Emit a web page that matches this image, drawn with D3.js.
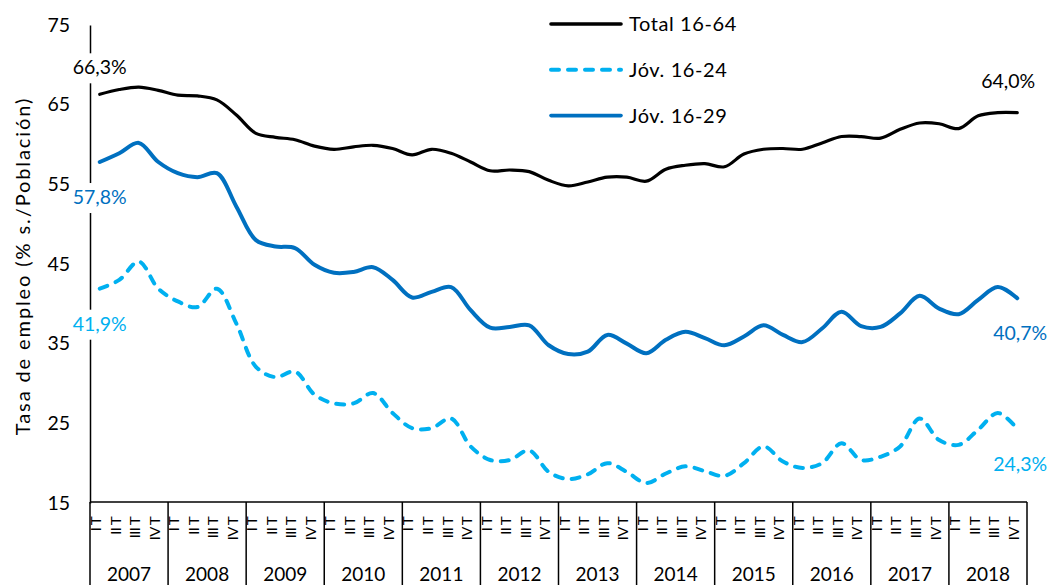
<!DOCTYPE html>
<html>
<head>
<meta charset="utf-8">
<script src="https://cdn.jsdelivr.net/npm/d3@7"></script>
<style>
  body { margin: 0; background: #fff; }
  svg { font-family: Lato, "Open Sans", sans-serif; }
</style>
</head>
<body>
<svg id="chart"></svg>
<script>
// values (quarterly, 2007 I T .. 2018 IV T)
var years = ["2007", "2008", "2009", "2010", "2011", "2012", "2013", "2014", "2015", "2016", "2017", "2018"];
var quarters = ["I T", "II T", "III T", "IV T"];
var yTicks = [15, 25, 35, 45, 55, 65, 75];

var total1664 = [
  66.3, 66.9, 67.2, 66.8, 66.2, 66.1, 65.6, 63.7, 61.4, 60.9, 60.6, 59.8,
  59.4, 59.7, 59.9, 59.5, 58.7, 59.4, 58.9, 57.8, 56.7, 56.8, 56.6, 55.5,
  54.8, 55.3, 55.9, 55.9, 55.4, 56.9, 57.4, 57.6, 57.2, 58.8, 59.4, 59.5,
  59.4, 60.2, 61.0, 61.0, 60.8, 61.9, 62.7, 62.6, 62.0, 63.6, 64.0, 64.0
];
var jov1624 = [
  41.9, 43.0, 45.3, 41.9, 40.3, 39.6, 41.9, 37.5, 32.1, 30.8, 31.5, 28.6,
  27.5, 27.5, 28.8, 26.3, 24.4, 24.4, 25.6, 22.1, 20.4, 20.4, 21.6, 18.9,
  18.0, 18.6, 20.0, 18.9, 17.5, 18.7, 19.6, 19.0, 18.4, 20.0, 22.1, 20.2,
  19.4, 20.0, 22.5, 20.4, 20.8, 22.1, 25.6, 22.9, 22.3, 24.2, 26.3, 24.3
];
var jov1629 = [
  57.8, 58.9, 60.2, 57.8, 56.4, 55.9, 56.4, 52.2, 48.0, 47.2, 47.0, 44.9,
  43.9, 44.0, 44.6, 43.0, 40.8, 41.5, 42.1, 39.2, 37.0, 37.1, 37.3, 34.8,
  33.7, 34.0, 36.1, 35.0, 33.8, 35.5, 36.5, 35.7, 34.8, 35.9, 37.3, 36.1,
  35.2, 36.9, 39.0, 37.2, 37.1, 38.8, 41.0, 39.4, 38.7, 40.5, 42.1, 40.7
];

var width = 1050, height = 585;
var margin = { left: 90, right: 1027, top: 25, bottom: 503 };

var svg = d3.select("#chart").attr("width", width).attr("height", height);

// one slot per quarter
var periods = [];
years.forEach(function (yr) {
  quarters.forEach(function (q) { periods.push(yr + " " + q); });
});

var x = d3.scaleBand().domain(periods).range([margin.left, margin.right]);
var xYear = d3.scaleBand().domain(years).range([margin.left, margin.right]);
var y = d3.scaleLinear().domain([15, 75]).range([margin.bottom, margin.top]);

function cx(i) { return x(periods[i]) + x.bandwidth() / 2; }

var series = [
  { name: "Total 16-64", values: total1664, color: "#000000", width: 3.2, dash: null },
  { name: "Jóv. 16-24", values: jov1624, color: "#00B0F0", width: 4, dash: "8,9" },
  { name: "Jóv. 16-29", values: jov1629, color: "#0070C0", width: 4, dash: null }
];

// y axis
var yAxis = svg.append("g")
  .attr("transform", `translate(${margin.left},0)`)
  .call(d3.axisLeft(y).tickValues(yTicks).tickSize(0).tickSizeOuter(0).tickPadding(20));
yAxis.select(".domain").attr("stroke", "#000").attr("stroke-width", 1.5);
yAxis.selectAll("text")
  .attr("font-size", 19.5)
  .attr("fill", "#000")
  .attr("font-family", "Lato, sans-serif");

svg.append("text")
  .attr("transform", "translate(23,266) rotate(-90)")
  .attr("text-anchor", "middle")
  .attr("dy", "0.35em")
  .attr("font-size", 20)
  .attr("letter-spacing", 1.9)
  .text("Tasa de empleo (% s./Población)");

// x axis: baseline, year boxes, quarter labels
svg.append("line")
  .attr("x1", margin.left).attr("x2", margin.right)
  .attr("y1", margin.bottom - 1).attr("y2", margin.bottom - 1)
  .attr("stroke", "#000").attr("stroke-width", 1.5);

var yearG = svg.append("g");
yearG.selectAll("line")
  .data(years.concat(["end"]))
  .enter()
  .append("line")
  .attr("x1", (d) => (d == "end" ? margin.right : xYear(d)))
  .attr("x2", (d) => (d == "end" ? margin.right : xYear(d)))
  .attr("y1", margin.bottom - 1)
  .attr("y2", height)
  .attr("stroke", "#000")
  .attr("stroke-width", 1.5);

yearG.selectAll("text")
  .data(years)
  .enter()
  .append("text")
  .attr("x", (d) => xYear(d) + xYear.bandwidth() / 2)
  .attr("y", 574)
  .attr("dy", "0.35em")
  .attr("text-anchor", "middle")
  .attr("font-size", 19)
  .text((d) => d);

svg.append("g")
  .selectAll("text")
  .data(periods)
  .enter()
  .append("text")
  .attr("transform", (d) => `translate(${x(d) + x.bandwidth() / 2 - 3},517) rotate(-90) scale(1.2,1)`)
  .attr("text-anchor", "end")
  .attr("dy", "0.35em")
  .attr("font-size", 12.5)
  .attr("letter-spacing", -0.6)
  .text((d) => d.split(" ").slice(1).join(" "));

// the lines
var line = d3.line()
  .x((d, i) => cx(i))
  .y((d) => y(d))
  .curve(d3.curveCatmullRom.alpha(0.5));

svg.append("g")
  .selectAll("path")
  .data(series)
  .enter()
  .append("path")
  .attr("d", (d) => line(d.values))
  .attr("fill", "none")
  .attr("stroke", (d) => d.color)
  .attr("stroke-width", (d) => d.width)
  .attr("stroke-linecap", "round")
  .attr("stroke-dasharray", (d) => d.dash);

// first / last value labels
var fmt = (v) => d3.format(".1f")(v).replace(".", ",") + "%";
var labels = [
  { s: series[0], i: 0, dx: 0, dy: -27, bg: true },
  { s: series[2], i: 0, dx: 0, dy: 35, bg: true },
  { s: series[1], i: 0, dx: 0, dy: 35, bg: true },
  { s: series[0], i: 47, dx: -9, dy: -31, bg: false },
  { s: series[2], i: 47, dx: 3, dy: 35, bg: false },
  { s: series[1], i: 47, dx: 3, dy: 35, bg: false }
];
var labG = svg.append("g");
labels.forEach(function (l) {
  var px = cx(l.i) + l.dx, py = y(l.s.values[l.i]) + l.dy;
  if (l.bg) {
    labG.append("rect")
      .attr("x", px - 30).attr("y", py - 14)
      .attr("width", 60).attr("height", 30)
      .attr("fill", "#fff");
  }
  labG.append("text")
    .attr("x", px)
    .attr("y", py)
    .attr("dy", "0.35em")
    .attr("text-anchor", "middle")
    .attr("font-size", 19.5)
    .attr("fill", l.s.color)
    .text(fmt(l.s.values[l.i]));
});

// legend
var legend = svg.append("g")
  .selectAll("g")
  .data(series)
  .enter()
  .append("g")
  .attr("transform", (d, i) => `translate(551,${24 + i * 45.8})`);
legend.append("line")
  .attr("x1", 0).attr("x2", 70)
  .attr("stroke", (d) => d.color)
  .attr("stroke-width", (d) => (d.dash ? 4 : 3.6))
  .attr("stroke-linecap", "round")
  .attr("stroke-dasharray", (d) => d.dash);
legend.append("text")
  .attr("x", 78)
  .attr("dy", "0.35em")
  .attr("font-size", 20)
  .attr("letter-spacing", 0.6)
  .text((d) => d.name);
</script>
</body>
</html>
